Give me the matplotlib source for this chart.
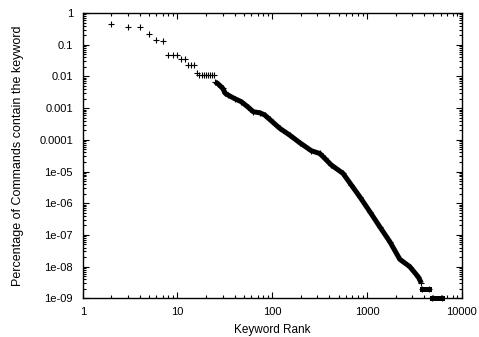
import matplotlib
matplotlib.use("Agg")
import matplotlib.pyplot as plt
import numpy as np
from matplotlib.ticker import FixedLocator, LogLocator, NullFormatter

plt.rcParams['font.family'] = ['Liberation Sans', 'DejaVu Sans']

# top-ranked keywords, each one drawn as its own point
top_rank = [2, 3, 4, 5, 6, 7, 8, 9, 10, 11, 12, 13, 14, 15, 16,
            17, 18, 19, 20, 21, 22, 23, 24]
top_pct = [0.44, 0.37, 0.37, 0.21, 0.14, 0.13, 0.048, 0.048, 0.048, 0.036, 0.036,
           0.023, 0.023, 0.023, 0.013,
           0.011, 0.011, 0.011, 0.011, 0.011, 0.011, 0.011, 0.011]

# long tail, where the points overlap into a solid band
tail_rank = [25, 27, 30, 32, 34, 40, 47, 55, 63, 74, 83, 94, 120, 153, 195,
             259, 317, 358, 420, 558, 685, 838, 1071, 1364, 1740, 2218,
             2820, 3460, 3750]
tail_pct = [0.0068, 0.0057, 0.0042, 0.0029, 0.0026, 0.0020, 0.0016, 0.0011,
            0.00077, 0.00071, 0.00061, 0.00044, 0.00023, 0.00014, 8.1e-5,
            4.5e-5, 3.7e-5, 2.6e-5, 1.6e-5, 8.7e-6, 3.7e-6, 1.6e-6, 5.4e-7,
            1.8e-7, 6.1e-8, 1.7e-8, 1.0e-8, 4.8e-9, 3.0e-9]

# keywords seen only twice / once
twice_rank = [3800, 4500]
twice_pct = [2e-9, 2e-9]
once_rank = [4800, 6200]
once_pct = [1e-9, 1e-9]

x_ticks = [1, 10, 100, 1000, 10000]
x_labels = ["1", "10", "100", "1000", "10000"]
y_ticks = [1, 0.1, 0.01, 0.001, 0.0001, 1e-5, 1e-6, 1e-7, 1e-8, 1e-9]
y_labels = ["1", "0.1", "0.01", "0.001", "0.0001", "1e-05", "1e-06",
            "1e-07", "1e-08", "1e-09"]

fig = plt.figure(figsize=(4.79, 3.37), dpi=100)
ax = fig.add_axes([0.1727, 0.1148, 0.7914, 0.8466])

mk = dict(marker='+', markersize=5, markeredgewidth=0.8, color='black', clip_on=False)
ax.plot(top_rank, top_pct, linestyle='none', **mk)
ax.plot(tail_rank, tail_pct, linestyle='-', linewidth=3.6, solid_capstyle='butt', **mk)
ax.plot(twice_rank, twice_pct, linestyle='-', linewidth=3.6, **mk)
ax.plot(once_rank, once_pct, linestyle='-', linewidth=3.6, **mk)

ax.set_xscale('log')
ax.set_yscale('log')
ax.set_xlim(1, 10000)
ax.set_ylim(1e-9, 1)

ax.xaxis.set_major_locator(FixedLocator(x_ticks))
ax.set_xticklabels(x_labels)
ax.yaxis.set_major_locator(FixedLocator(y_ticks))
ax.set_yticklabels(y_labels)
ax.xaxis.set_minor_locator(LogLocator(base=10, subs=np.arange(2, 10)))
ax.yaxis.set_minor_locator(LogLocator(base=10, subs=np.arange(2, 10), numticks=20))
ax.xaxis.set_minor_formatter(NullFormatter())
ax.yaxis.set_minor_formatter(NullFormatter())

ax.tick_params(which='both', direction='in', top=True, right=True,
               width=0.8, labelsize=8, color='black')
ax.tick_params(which='major', length=4)
ax.tick_params(which='minor', length=2)
ax.tick_params(axis='x', which='major', pad=6)
ax.tick_params(axis='y', which='major', pad=7)
for s in ax.spines.values():
    s.set_linewidth(1.0)

ax.set_xlabel("Keyword Rank", fontsize=8.5, labelpad=5)
ax.set_ylabel("Percentage of Commands contain the keyword", fontsize=9, labelpad=11)

fig.savefig("out.png", dpi=100)
